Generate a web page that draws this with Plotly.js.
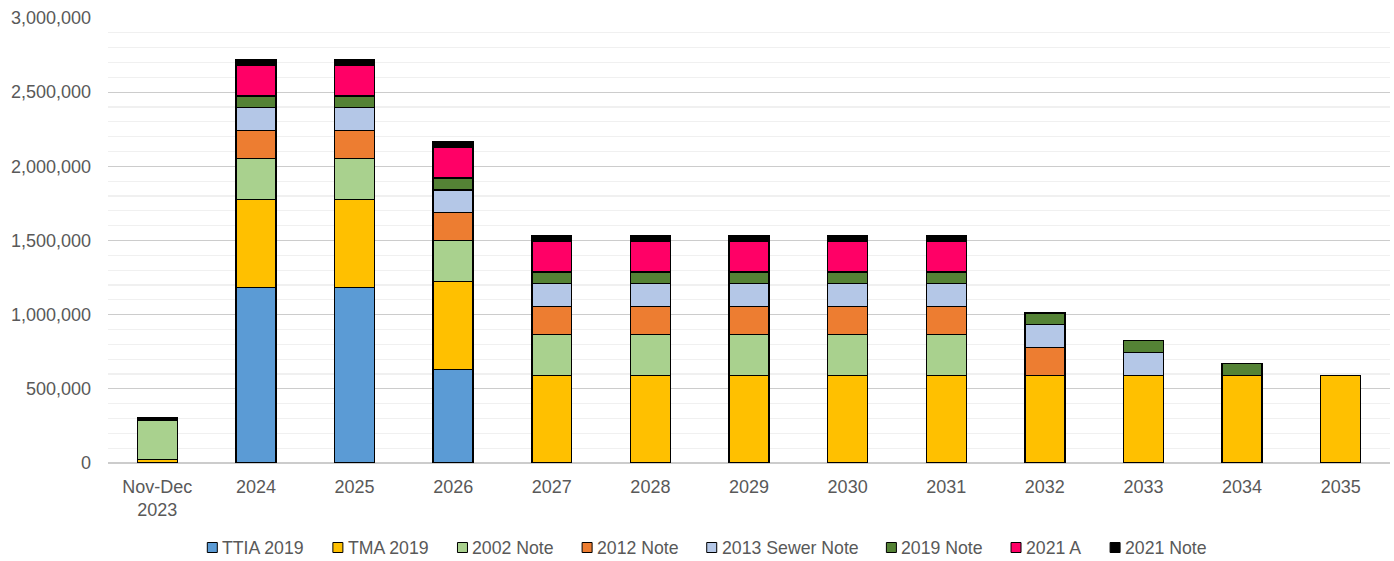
<!DOCTYPE html>
<html>
<head>
<meta charset="utf-8">
<script src="https://cdn.plot.ly/plotly-3.0.1.min.js"></script>
<style>
  html, body { margin: 0; padding: 0; background: #ffffff; }
  #chart { width: 1394px; height: 561px; }
</style>
</head>
<body>
<div id="chart"></div>
<script>
// Debt service schedule by obligation, stacked per year
const categories = ["Nov-Dec<br>2023", "2024", "2025", "2026", "2027", "2028", "2029",
                    "2030", "2031", "2032", "2033", "2034", "2035"];

const seriesNames = ["TTIA 2019", "TMA 2019", "2002 Note", "2012 Note",
                     "2013 Sewer Note", "2019 Note", "2021 A", "2021 Note"];

const ttia2019     = [0, 1185000, 1185000, 632000, 0, 0, 0, 0, 0, 0, 0, 0, 0];
const tma2019      = [25000, 590000, 590000, 590000, 590000, 590000, 590000, 590000, 590000, 590000, 590000, 590000, 590000];
const note2002     = [260000, 278000, 278000, 278000, 278000, 278000, 278000, 278000, 278000, 0, 0, 0, 0];
const note2012     = [0, 189000, 189000, 189000, 189000, 189000, 189000, 189000, 189000, 189000, 0, 0, 0];
const sewerNote2013 = [0, 153000, 153000, 152000, 154000, 154000, 154000, 154000, 154000, 154000, 154000, 0, 0];
const note2019     = [0, 78000, 78000, 80000, 76000, 76000, 76000, 76000, 76000, 79000, 80000, 80000, 0];
const series2021A  = [0, 207000, 207000, 207000, 210000, 210000, 210000, 210000, 210000, 0, 0, 0, 0];
const note2021     = [18000, 36000, 36000, 35000, 36000, 36000, 36000, 36000, 36000, 0, 0, 0, 0];

const seriesValues = [ttia2019, tma2019, note2002, note2012, sewerNote2013, note2019, series2021A, note2021];
const seriesColors = ["#5B9BD5", "#FFC000", "#A9D18E", "#ED7D31", "#B4C7E7", "#548235", "#FF0066", "#000000"];

const yTickVals = [0, 500000, 1000000, 1500000, 2000000, 2500000, 3000000];

// Plot geometry (pixels)
const W = 1394, H = 561;
const M = { l: 108, r: 4, t: 18, b: 98 };
const plotW = W - M.l - M.r;
const plotH = H - M.t - M.b;
const textColor = "#595959";
const fontFamily = "Liberation Sans, Arial, sans-serif";

const traces = seriesNames.map((name, i) => ({
  type: "bar",
  name: name,
  x: categories,
  y: seriesValues[i],
  marker: { color: seriesColors[i], line: { color: "#000000", width: 1.4 } },
  showlegend: false,
  hovertemplate: "%{x}<br>" + name + ": %{y:,}<extra></extra>"
}));

// Legend row drawn beneath the axis: square swatch + label per series
const legendFontSize = 17.7;
const ctx = document.createElement("canvas").getContext("2d");
ctx.font = legendFontSize + "px 'Liberation Sans', Arial, sans-serif";
const swatch = 10, swatchGap = 4, itemGap = 29;
const textWidths = seriesNames.map(n => ctx.measureText(n).width);
const totalW = textWidths.reduce((s, w) => s + swatch + swatchGap + w, 0) + itemGap * (seriesNames.length - 1);
const legendCenterX = 706.5;
const legendCenterY = 547.5;
const toPX = px => (px - M.l) / plotW;
const toPY = py => (M.t + plotH - py) / plotH;

const shapes = [];
const annotations = [];
let cursor = legendCenterX - totalW / 2;
seriesNames.forEach((name, i) => {
  shapes.push({
    type: "rect", xref: "paper", yref: "paper",
    x0: toPX(cursor), x1: toPX(cursor + swatch),
    y0: toPY(legendCenterY + swatch / 2), y1: toPY(legendCenterY - swatch / 2),
    fillcolor: seriesColors[i], line: { color: "#000000", width: 1 }
  });
  const tx = cursor + swatch + swatchGap;
  annotations.push({
    xref: "paper", yref: "paper", x: toPX(tx - 1), y: toPY(legendCenterY),
    xanchor: "left", yanchor: "middle", showarrow: false,
    text: name, font: { family: fontFamily, size: legendFontSize, color: textColor }
  });
  cursor = tx + textWidths[i] + itemGap;
});

const layout = {
  width: W, height: H,
  margin: M,
  paper_bgcolor: "#ffffff", plot_bgcolor: "#ffffff",
  barmode: "stack",
  bargap: 0.595,
  showlegend: false,
  font: { family: fontFamily, size: 18, color: textColor },
  xaxis: {
    type: "category",
    showgrid: false, showline: false, zeroline: false,
    ticks: "", tickfont: { size: 18, color: textColor },
    ticklabelstandoff: 11
  },
  yaxis: {
    range: [0, 3000000],
    tickvals: yTickVals,
    tickformat: ",",
    showgrid: true, gridcolor: "#cccccc", gridwidth: 1.3,
    zeroline: true, zerolinecolor: "#cccccc", zerolinewidth: 1.6,
    showline: false, ticks: "",
    tickfont: { size: 18, color: textColor },
    ticklabelstandoff: 16,
    minor: { dtick: 100000, showgrid: true, gridcolor: "#f0f0f0", gridwidth: 1.2 }
  },
  shapes: shapes,
  annotations: annotations
};

Plotly.newPlot("chart", traces, layout, { displayModeBar: false, staticPlot: true });
</script>
</body>
</html>
